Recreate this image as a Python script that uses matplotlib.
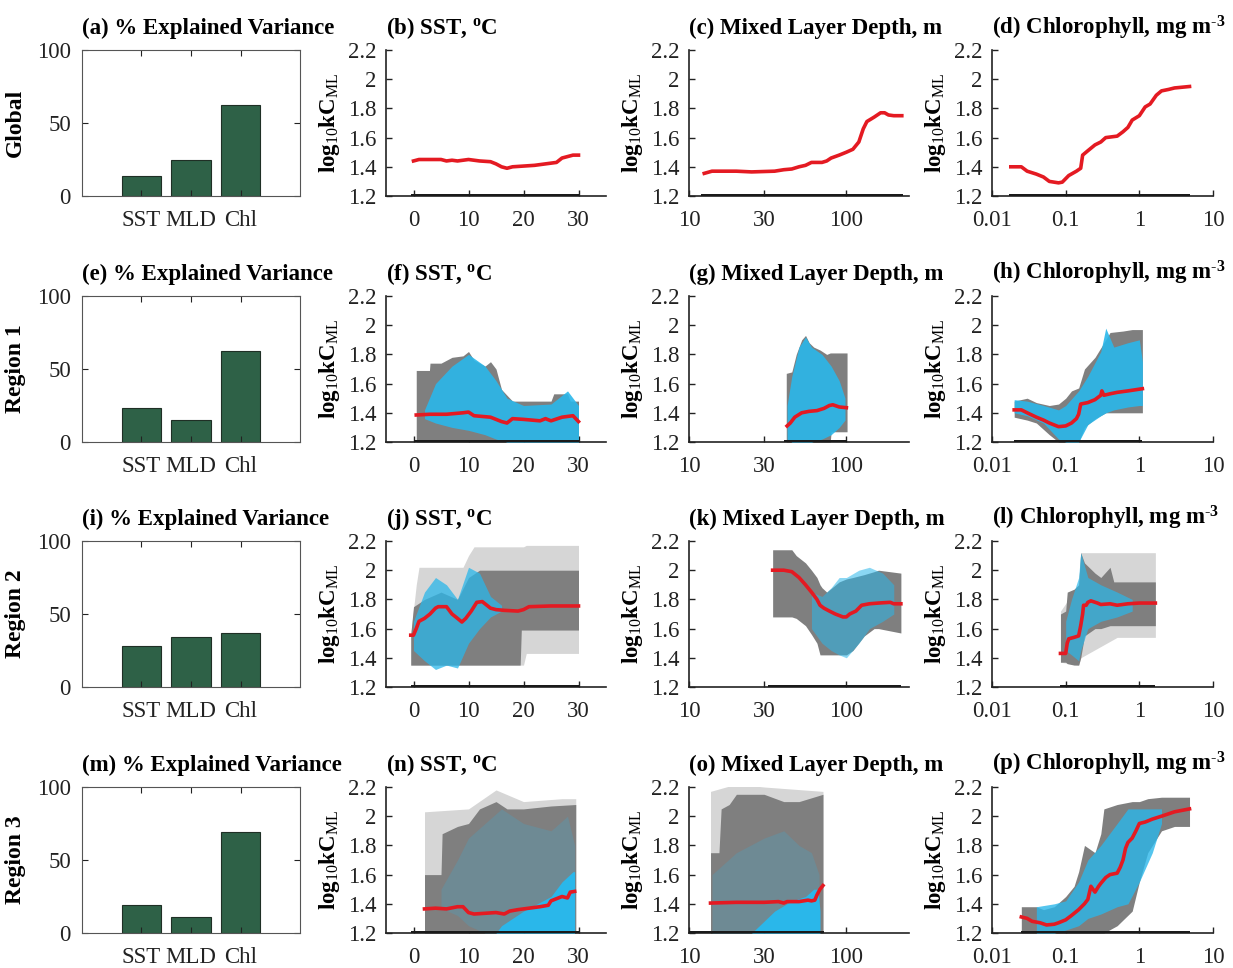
import matplotlib
matplotlib.use('Agg')
import matplotlib.pyplot as plt
from matplotlib.ticker import NullLocator

plt.rcParams['font.family'] = ['Liberation Serif', 'DejaVu Serif']
plt.rcParams['mathtext.fontset'] = 'custom'
plt.rcParams['mathtext.rm'] = 'Liberation Serif'
plt.rcParams['mathtext.bf'] = 'Liberation Serif:bold'
plt.rcParams['mathtext.it'] = 'Liberation Serif:italic'

# --- explained variance (%) per row ---
bar_labels = ['SST', 'MLD', 'Chl']
row_names = ['Global', 'Region 1', 'Region 2', 'Region 3']
var_global = [14, 25, 62]
var_r1 = [23, 15, 62]
var_r2 = [28, 34, 37]
var_r3 = [19, 11, 69]

# --- Global: partial dependence only ---
g_sst_x = [0, 1, 3, 5, 6, 7, 8, 10, 12, 14, 15, 16, 17, 18, 20, 22, 24, 25, 26, 27, 28, 29, 30]
g_sst_pd = [1.44, 1.45, 1.45, 1.45, 1.44, 1.445, 1.44, 1.45, 1.44, 1.435, 1.42, 1.40, 1.39, 1.40,
            1.405, 1.41, 1.42, 1.425, 1.43, 1.46, 1.47, 1.48, 1.48]
g_sst_rug = [-0.5, 30]

g_mld_x = [12.5, 14, 20, 25, 35, 40, 45, 50, 55, 60, 70, 75, 80, 90, 100, 110, 120, 128, 135,
           150, 165, 175, 185, 200, 225]
g_mld_pd = [1.355, 1.37, 1.37, 1.365, 1.37, 1.38, 1.385, 1.40, 1.41, 1.43, 1.43, 1.44, 1.46, 1.48,
            1.50, 1.52, 1.57, 1.66, 1.71, 1.74, 1.77, 1.77, 1.755, 1.75, 1.75]
g_mld_rug = [12, 230]

g_chl_x = [0.018, 0.025, 0.03, 0.04, 0.05, 0.06, 0.08, 0.09, 0.11, 0.14, 0.16, 0.17, 0.2, 0.25,
           0.3, 0.35, 0.5, 0.6, 0.7, 0.8, 1.0, 1.2, 1.4, 1.7, 2.0, 2.5, 3.0, 4.8]
g_chl_pd = [1.40, 1.40, 1.37, 1.35, 1.33, 1.30, 1.29, 1.295, 1.34, 1.37, 1.39, 1.48, 1.51, 1.55,
            1.57, 1.60, 1.61, 1.64, 1.67, 1.72, 1.75, 1.81, 1.83, 1.89, 1.92, 1.93, 1.94, 1.95]
g_chl_rug = [0.017, 4.8]

# --- Region 1 ---
r1_sst_x = [0.5, 3, 6, 9, 10, 11, 14, 16, 17, 18, 20, 23, 24, 25, 27, 29, 30]
r1_sst_pd = [1.385, 1.39, 1.39, 1.40, 1.405, 1.38, 1.37, 1.34, 1.33, 1.36, 1.355, 1.345, 1.36,
             1.345, 1.37, 1.38, 1.34]
r1_sst_gray_x = [0.5, 2.9, 3, 5, 7, 9, 10, 11, 13, 14, 15, 16, 17, 18, 25, 25.5, 28, 28.5, 30]
r1_sst_gray_hi = [1.69, 1.69, 1.74, 1.74, 1.78, 1.79, 1.82, 1.76, 1.72, 1.75, 1.70, 1.56, 1.52,
                  1.48, 1.48, 1.53, 1.53, 1.48, 1.48]
r1_sst_cyan_x = [2, 4, 7, 10, 13, 15, 17, 20, 25, 28, 30]
r1_sst_cyan_lo = [1.36, 1.33, 1.30, 1.28, 1.25, 1.22, 1.20, 1.20, 1.20, 1.20, 1.20]
r1_sst_cyan_hi = [1.42, 1.60, 1.72, 1.80, 1.72, 1.62, 1.50, 1.45, 1.46, 1.55, 1.45]
r1_sst_rug = [0, 30]

r1_mld_x = [42, 44, 47, 52, 58, 65, 72, 78, 82, 90, 100]
r1_mld_pd = [1.31, 1.33, 1.37, 1.40, 1.41, 1.415, 1.43, 1.45, 1.455, 1.44, 1.435]
r1_mld_gray_x = [41.5, 45, 48, 52, 55, 58, 62, 68, 75, 79, 80, 101]
r1_mld_gray_lo = [1.2, 1.2, 1.2, 1.2, 1.2, 1.2, 1.2, 1.2, 1.2, 1.2, 1.27, 1.27]
r1_mld_gray_hi = [1.67, 1.68, 1.80, 1.90, 1.93, 1.88, 1.85, 1.83, 1.80, 1.81, 1.81, 1.81]
r1_mld_cyan_x = [42, 45, 50, 55, 60, 70, 80, 90, 98]
r1_mld_cyan_lo = [1.22, 1.20, 1.20, 1.20, 1.20, 1.22, 1.25, 1.30, 1.35]
r1_mld_cyan_hi = [1.45, 1.65, 1.85, 1.92, 1.85, 1.80, 1.72, 1.62, 1.50]
r1_mld_rug = [40, 101]

r1_chl_x = [0.02, 0.025, 0.03, 0.04, 0.05, 0.06, 0.08, 0.1, 0.12, 0.14, 0.15, 0.16, 0.2, 0.25,
            0.3, 0.31, 0.33, 0.4, 0.5, 0.7, 1.1]
r1_chl_pd = [1.42, 1.42, 1.40, 1.37, 1.35, 1.33, 1.305, 1.31, 1.33, 1.36, 1.39, 1.46, 1.47, 1.49,
             1.52, 1.55, 1.52, 1.53, 1.54, 1.55, 1.565]
r1_chl_gray_x = [0.02, 0.03, 0.04, 0.06, 0.08, 0.1, 0.12, 0.15, 0.18, 0.25, 0.35, 0.4, 0.6, 0.8, 1.1]
r1_chl_gray_lo = [1.37, 1.35, 1.33, 1.25, 1.20, 1.20, 1.20, 1.20, 1.30, 1.36, 1.40, 1.40, 1.40, 1.40, 1.40]
r1_chl_gray_hi = [1.48, 1.50, 1.47, 1.45, 1.46, 1.50, 1.55, 1.57, 1.70, 1.78, 1.90, 1.95, 1.96, 1.97, 1.97]
r1_chl_cyan_x = [0.02, 0.03, 0.05, 0.08, 0.1, 0.15, 0.2, 0.3, 0.35, 0.45, 0.7, 1.0, 1.1]
r1_chl_cyan_lo = [1.40, 1.38, 1.33, 1.22, 1.20, 1.20, 1.32, 1.38, 1.40, 1.42, 1.44, 1.45, 1.45]
r1_chl_cyan_hi = [1.49, 1.48, 1.45, 1.42, 1.45, 1.55, 1.65, 1.82, 1.98, 1.85, 1.88, 1.90, 1.75]
r1_chl_rug = [0.02, 1.1]

# --- Region 2 ---
r2_sst_x = [-0.5, 0, 0.5, 1, 2, 3, 3.5, 4, 4.5, 6, 7, 8, 8.8, 9.5, 10.5, 11.5, 12.5, 14, 15, 16.5,
            19, 20, 21, 25, 30]
r2_sst_pd = [1.555, 1.555, 1.60, 1.65, 1.67, 1.70, 1.72, 1.74, 1.75, 1.75, 1.70, 1.67, 1.645, 1.67,
             1.72, 1.78, 1.785, 1.74, 1.73, 1.725, 1.72, 1.73, 1.75, 1.755, 1.755]
r2_sst_gray_x = [-0.5, 0, 2, 5, 8, 10, 12, 19.4, 19.6, 30]
r2_sst_gray_lo = [1.35, 1.35, 1.35, 1.35, 1.35, 1.35, 1.35, 1.35, 1.59, 1.59]
r2_sst_gray_hi = [1.56, 1.75, 1.80, 1.85, 1.80, 1.95, 2.00, 2.00, 2.00, 2.00]
r2_sst_light_x = [-0.5, 0.5, 1, 9, 10, 11, 20, 20.5, 30]
r2_sst_light_lo = [1.35, 1.35, 1.35, 1.35, 1.35, 1.35, 1.35, 1.43, 1.43]
r2_sst_light_hi = [1.56, 1.90, 2.02, 2.02, 2.10, 2.16, 2.16, 2.17, 2.17]
r2_sst_cyan_x = [0, 2, 4, 6, 8, 10, 12, 14, 16]
r2_sst_cyan_lo = [1.45, 1.38, 1.32, 1.35, 1.33, 1.50, 1.60, 1.68, 1.72]
r2_sst_cyan_hi = [1.65, 1.85, 1.95, 1.90, 1.80, 2.02, 1.98, 1.82, 1.76]
r2_sst_rug = [-0.5, 30]

r2_mld_x = [34, 40, 45, 50, 55, 60, 65, 68, 72, 78, 85, 95, 100, 105, 115, 125, 140, 160, 190, 200, 222]
r2_mld_pd = [2.0, 2.0, 1.99, 1.95, 1.90, 1.85, 1.80, 1.76, 1.74, 1.72, 1.70, 1.68, 1.68, 1.70, 1.72,
             1.76, 1.77, 1.775, 1.78, 1.77, 1.77]
r2_mld_gray_x = [34, 45, 48, 55, 60, 65, 68, 70, 75, 90, 100, 110, 130, 150, 160, 222]
r2_mld_gray_lo = [1.68, 1.68, 1.67, 1.62, 1.56, 1.50, 1.42, 1.42, 1.42, 1.42, 1.42, 1.45, 1.55,
                  1.60, 1.60, 1.57]
r2_mld_gray_hi = [2.14, 2.14, 2.10, 2.05, 2.00, 1.95, 1.90, 1.88, 1.85, 1.92, 1.94, 1.95, 1.97,
                  1.99, 2.00, 1.98]
r2_mld_cyan_x = [60, 70, 80, 90, 100, 120, 140, 170, 200]
r2_mld_cyan_lo = [1.60, 1.50, 1.45, 1.42, 1.40, 1.50, 1.60, 1.65, 1.70]
r2_mld_cyan_hi = [1.85, 1.82, 1.88, 1.95, 1.95, 2.00, 2.02, 1.98, 1.90]
r2_mld_rug = [32, 222]

r2_chl_x = [0.085, 0.1, 0.105, 0.11, 0.13, 0.15, 0.16, 0.17, 0.175, 0.19, 0.2, 0.22, 0.27, 0.3,
            0.4, 0.5, 0.7, 1.0, 1.65]
r2_chl_pd = [1.43, 1.43, 1.50, 1.53, 1.54, 1.55, 1.62, 1.70, 1.76, 1.76, 1.78, 1.79, 1.775, 1.765,
             1.77, 1.76, 1.77, 1.775, 1.775]
r2_chl_gray_x = [0.085, 0.1, 0.105, 0.13, 0.15, 0.16, 0.18, 0.25, 0.3, 0.4, 0.45, 1.65]
r2_chl_gray_lo = [1.37, 1.37, 1.36, 1.35, 1.35, 1.40, 1.55, 1.60, 1.60, 1.62, 1.62, 1.62]
r2_chl_gray_hi = [1.70, 1.72, 1.85, 1.87, 1.90, 2.12, 2.05, 1.98, 1.95, 2.02, 1.92, 1.92]
r2_chl_light_x = [0.085, 0.15, 0.16, 0.5, 1.65]
r2_chl_light_lo = [1.37, 1.35, 1.40, 1.54, 1.54]
r2_chl_light_hi = [1.72, 1.90, 2.12, 2.12, 2.12]
r2_chl_top_x = [0.085, 1.65]
r2_chl_top_y = [2.22, 2.22]
r2_chl_cyan_x = [0.1, 0.12, 0.15, 0.16, 0.2, 0.3, 0.5, 0.8]
r2_chl_cyan_lo = [1.45, 1.42, 1.38, 1.45, 1.60, 1.65, 1.68, 1.72]
r2_chl_cyan_hi = [1.65, 1.80, 1.95, 2.12, 1.95, 1.90, 1.85, 1.80]
r2_chl_rug = [0.085, 1.65]

# --- Region 3 ---
r3_sst_x = [2, 4, 6, 8, 9, 10, 11, 13, 15, 16.5, 17.5, 19, 21, 23, 24.5, 25, 27, 28, 28.5, 29.3]
r3_sst_pd = [1.365, 1.37, 1.365, 1.38, 1.38, 1.34, 1.33, 1.335, 1.34, 1.33, 1.35, 1.36, 1.37, 1.38,
             1.39, 1.42, 1.45, 1.44, 1.48, 1.485]
r3_sst_gray_x = [2, 5, 5.2, 8, 10, 12, 15, 17, 20, 25, 29.5]
r3_sst_gray_hi = [1.60, 1.60, 1.88, 1.93, 1.95, 2.05, 2.10, 2.05, 2.05, 2.07, 2.08]
r3_sst_light_x = [2, 10, 15, 20, 27, 29.5]
r3_sst_light_hi = [2.03, 2.05, 2.18, 2.10, 2.12, 2.12]
r3_sst_cyan_x = [5, 8, 10, 13, 16, 20, 25, 28, 29.3]
r3_sst_cyan_lo = [1.37, 1.32, 1.25, 1.20, 1.20, 1.20, 1.20, 1.20, 1.20]
r3_sst_cyan_hi = [1.50, 1.70, 1.85, 1.95, 2.05, 1.95, 1.90, 2.00, 1.80]
r3_sst_dense_x = [15, 16, 20, 25, 27, 29, 29.3]
r3_sst_dense_hi = [1.20, 1.25, 1.35, 1.45, 1.55, 1.62, 1.62]
r3_sst_rug = [-0.5, 30]

r3_mld_x = [13.7, 20, 30, 37, 40, 42, 50, 57, 60, 63, 65, 68, 71]
r3_mld_pd = [1.405, 1.41, 1.41, 1.415, 1.405, 1.415, 1.415, 1.425, 1.42, 1.425, 1.46, 1.50, 1.525]
r3_mld_gray_x = [13.7, 15.5, 16, 18, 20, 30, 40, 50, 71]
r3_mld_gray_hi = [1.75, 1.75, 2.05, 2.08, 2.15, 2.15, 2.10, 2.10, 2.15]
r3_mld_light_x = [13.7, 20, 30, 71]
r3_mld_light_hi = [2.17, 2.22, 2.20, 2.17]
r3_mld_cyan_x = [14, 20, 30, 40, 50, 60, 67]
r3_mld_cyan_hi = [1.60, 1.75, 1.85, 1.90, 1.80, 1.75, 1.60]
r3_mld_dense_x = [25, 28, 35, 45, 55, 62, 66, 68]
r3_mld_dense_hi = [1.20, 1.25, 1.35, 1.42, 1.45, 1.50, 1.50, 1.35]
r3_mld_rug = [10, 72]

r3_chl_x = [0.025, 0.03, 0.035, 0.045, 0.055, 0.07, 0.08, 0.1, 0.12, 0.15, 0.18, 0.2, 0.22, 0.25,
            0.28, 0.3, 0.35, 0.4, 0.5, 0.55, 0.6, 0.65, 0.7, 0.8, 0.9, 1.0, 1.2, 1.5, 2, 3, 4.8]
r3_chl_pd = [1.31, 1.30, 1.28, 1.27, 1.255, 1.26, 1.27, 1.29, 1.32, 1.36, 1.40, 1.43, 1.52, 1.48,
             1.52, 1.54, 1.58, 1.60, 1.61, 1.65, 1.70, 1.78, 1.82, 1.85, 1.90, 1.95, 1.96, 1.98,
             2.00, 2.03, 2.05]
r3_chl_gray_x = [0.025, 0.04, 0.05, 0.07, 0.1, 0.13, 0.15, 0.18, 0.25, 0.3, 0.33, 0.5, 0.8, 1.0,
                 1.3, 2, 3, 4.8]
r3_chl_gray_lo = [1.20, 1.20, 1.20, 1.20, 1.20, 1.20, 1.20, 1.20, 1.20, 1.20, 1.20, 1.25, 1.35,
                  1.55, 1.75, 1.90, 1.93, 1.93]
r3_chl_gray_hi = [1.38, 1.38, 1.36, 1.38, 1.45, 1.52, 1.62, 1.80, 1.75, 1.88, 2.05, 2.08, 2.10,
                  2.10, 2.12, 2.13, 2.13, 2.13]
r3_chl_cyan_x = [0.04, 0.07, 0.1, 0.15, 0.2, 0.3, 0.5, 0.7, 1.0, 1.5, 2.0]
r3_chl_cyan_lo = [1.20, 1.20, 1.22, 1.25, 1.30, 1.33, 1.38, 1.40, 1.55, 1.75, 1.95]
r3_chl_cyan_hi = [1.38, 1.40, 1.42, 1.55, 1.70, 1.80, 1.95, 2.05, 2.05, 2.05, 2.05]
r3_chl_rug = [0.025, 4.8]

chl_unit = 'mg m$^{\\mathbf{\\text{-}3}}$'
titles = [
    ['(a) % Explained Variance', '(b) SST, $^{\\mathbf{o}}$C', '(c) Mixed Layer Depth, m',
     '(d) Chlorophyll, ' + chl_unit],
    ['(e) % Explained Variance', '(f) SST, $^{\\mathbf{o}}$C', '(g) Mixed Layer Depth, m',
     '(h) Chlorophyll, ' + chl_unit],
    ['(i) % Explained Variance', '(j) SST, $^{\\mathbf{o}}$C', '(k) Mixed Layer Depth, m',
     '(l) Chlorophyll, ' + chl_unit],
    ['(m) % Explained Variance', '(n) SST, $^{\\mathbf{o}}$C', '(o) Mixed Layer Depth, m',
     '(p) Chlorophyll, ' + chl_unit],
]

BAR_C = '#2e6147'
GRAY = '#7f7f7f'
LIGHT = '#d6d6d6'
CYAN = '#2ab7ea'
RED = '#e41a22'
YMIN = 1.2

W, H = 1233, 968
fig = plt.figure(figsize=(W / 100, H / 100), dpi=100)

col_left = [82, 386, 689, 992]
col_w = [218, 220, 220, 221]
row_top = [50, 296, 541, 787]
row_h = 146


def make_ax(r, c):
    l, w = col_left[c], col_w[c]
    t = row_top[r]
    return fig.add_axes([l / W, 1 - (t + row_h) / H, w / W, row_h / H])


def band(ax, x, lo, hi, color, alpha=1.0, z=1):
    if lo is None:
        lo = YMIN
    ax.fill_between(x, lo, hi, color=color, alpha=alpha, lw=0, zorder=z)


def draw_pd(ax, kind, x, pd, rug, gray=None, light=None, cyan=None, dense=None,
            cyan_alpha=0.9, extra=None):
    if light is not None:
        band(ax, *light, LIGHT, z=1)
    if extra is not None:
        ax.plot(extra[0], extra[1], color='#b0b0b0', lw=0.8, zorder=1)
    if gray is not None:
        band(ax, *gray, GRAY, z=2)
    if cyan is not None:
        band(ax, *cyan, CYAN, alpha=cyan_alpha, z=3)
    if dense is not None:
        band(ax, *dense, CYAN, z=4)
    ax.plot(x, pd, color=RED, lw=2.6, zorder=5)
    ax.fill_between(rug, YMIN, YMIN + 0.014, color='#1a1a1a', lw=0, zorder=6)

    ax.set_ylim(1.2, 2.2)
    ax.set_yticks([1.2, 1.4, 1.6, 1.8, 2.0, 2.2])
    ax.set_yticklabels(['1.2', '1.4', '1.6', '1.8', '2', '2.2'])
    if kind == 'sst':
        ax.set_xlim(-5, 35)
        ax.set_xticks([0, 10, 20, 30])
        ax.set_xticklabels(['0', '10', '20', '30'])
    elif kind == 'mld':
        ax.set_xscale('log')
        ax.set_xlim(10, 250)
        ax.set_xticks([10, 30, 100])
        ax.set_xticklabels(['10', '30', '100'])
    else:
        ax.set_xscale('log')
        ax.set_xlim(0.01, 10)
        ax.set_xticks([0.01, 0.1, 1, 10])
        ax.set_xticklabels(['0.01', '0.1', '1', '10'])
    ax.xaxis.set_minor_locator(NullLocator())
    for s in ['top', 'right']:
        ax.spines[s].set_visible(False)
    for s in ['left', 'bottom']:
        ax.spines[s].set_linewidth(1.2)
        ax.spines[s].set_color('#222222')
    ax.tick_params(direction='in', length=4, width=1, labelsize=16.5, colors='#222222')
    ax.tick_params(axis='x', pad=10)
    ax.tick_params(axis='y', pad=7)
    ax.set_ylabel(r'log$_{10}$kC$_{\rm ML}$', fontsize=16.5, fontweight='bold', labelpad=4)


def draw_bar(ax, vals, name):
    ax.bar([1, 2, 3], vals, width=0.8, color=BAR_C, edgecolor='#1f2f25', lw=0.8)
    ax.set_xlim(-0.2, 4.2)
    ax.set_ylim(0, 100)
    ax.set_xticks([1, 2, 3])
    ax.set_xticklabels(bar_labels)
    ax.set_yticks([0, 50, 100])
    ax.tick_params(direction='in', length=4, width=0.8, labelsize=16.5, colors='#222222',
                   top=True, right=True)
    ax.tick_params(axis='x', pad=10)
    ax.tick_params(axis='y', pad=8)
    for s in ax.spines.values():
        s.set_linewidth(0.8)
        s.set_color('#555555')
    ax.set_ylabel(name, fontsize=17, fontweight='bold', labelpad=8)


bar_vals = [var_global, var_r1, var_r2, var_r3]
for r in range(4):
    ax = make_ax(r, 0)
    draw_bar(ax, bar_vals[r], row_names[r])

# row 0: global
draw_pd(make_ax(0, 1), 'sst', g_sst_x, g_sst_pd, g_sst_rug)
draw_pd(make_ax(0, 2), 'mld', g_mld_x, g_mld_pd, g_mld_rug)
draw_pd(make_ax(0, 3), 'chl', g_chl_x, g_chl_pd, g_chl_rug)

# row 1: region 1
draw_pd(make_ax(1, 1), 'sst', r1_sst_x, r1_sst_pd, r1_sst_rug,
        gray=(r1_sst_gray_x, None, r1_sst_gray_hi),
        cyan=(r1_sst_cyan_x, r1_sst_cyan_lo, r1_sst_cyan_hi))
draw_pd(make_ax(1, 2), 'mld', r1_mld_x, r1_mld_pd, r1_mld_rug,
        gray=(r1_mld_gray_x, r1_mld_gray_lo, r1_mld_gray_hi),
        cyan=(r1_mld_cyan_x, r1_mld_cyan_lo, r1_mld_cyan_hi))
draw_pd(make_ax(1, 3), 'chl', r1_chl_x, r1_chl_pd, r1_chl_rug,
        gray=(r1_chl_gray_x, r1_chl_gray_lo, r1_chl_gray_hi),
        cyan=(r1_chl_cyan_x, r1_chl_cyan_lo, r1_chl_cyan_hi))

# row 2: region 2
draw_pd(make_ax(2, 1), 'sst', r2_sst_x, r2_sst_pd, r2_sst_rug,
        gray=(r2_sst_gray_x, r2_sst_gray_lo, r2_sst_gray_hi),
        light=(r2_sst_light_x, r2_sst_light_lo, r2_sst_light_hi),
        cyan=(r2_sst_cyan_x, r2_sst_cyan_lo, r2_sst_cyan_hi), cyan_alpha=0.75)
draw_pd(make_ax(2, 2), 'mld', r2_mld_x, r2_mld_pd, r2_mld_rug,
        gray=(r2_mld_gray_x, r2_mld_gray_lo, r2_mld_gray_hi),
        cyan=(r2_mld_cyan_x, r2_mld_cyan_lo, r2_mld_cyan_hi), cyan_alpha=0.55)
draw_pd(make_ax(2, 3), 'chl', r2_chl_x, r2_chl_pd, r2_chl_rug,
        gray=(r2_chl_gray_x, r2_chl_gray_lo, r2_chl_gray_hi),
        light=(r2_chl_light_x, r2_chl_light_lo, r2_chl_light_hi),
        cyan=(r2_chl_cyan_x, r2_chl_cyan_lo, r2_chl_cyan_hi), cyan_alpha=0.7,
        extra=(r2_chl_top_x, r2_chl_top_y))

# row 3: region 3
draw_pd(make_ax(3, 1), 'sst', r3_sst_x, r3_sst_pd, r3_sst_rug,
        gray=(r3_sst_gray_x, None, r3_sst_gray_hi),
        light=(r3_sst_light_x, None, r3_sst_light_hi),
        cyan=(r3_sst_cyan_x, r3_sst_cyan_lo, r3_sst_cyan_hi), cyan_alpha=0.2,
        dense=(r3_sst_dense_x, None, r3_sst_dense_hi))
draw_pd(make_ax(3, 2), 'mld', r3_mld_x, r3_mld_pd, r3_mld_rug,
        gray=(r3_mld_gray_x, None, r3_mld_gray_hi),
        light=(r3_mld_light_x, None, r3_mld_light_hi),
        cyan=(r3_mld_cyan_x, None, r3_mld_cyan_hi), cyan_alpha=0.2,
        dense=(r3_mld_dense_x, None, r3_mld_dense_hi))
draw_pd(make_ax(3, 3), 'chl', r3_chl_x, r3_chl_pd, r3_chl_rug,
        gray=(r3_chl_gray_x, r3_chl_gray_lo, r3_chl_gray_hi),
        cyan=(r3_chl_cyan_x, r3_chl_cyan_lo, r3_chl_cyan_hi), cyan_alpha=0.8)

for r in range(4):
    for c in range(4):
        l = col_left[c]
        t = row_top[r]
        fig.text(l / W, 1 - (t - 16) / H, titles[r][c], fontsize=16.5, fontweight='bold',
                 ha='left', va='baseline')

fig.savefig('out.png', dpi=100)
